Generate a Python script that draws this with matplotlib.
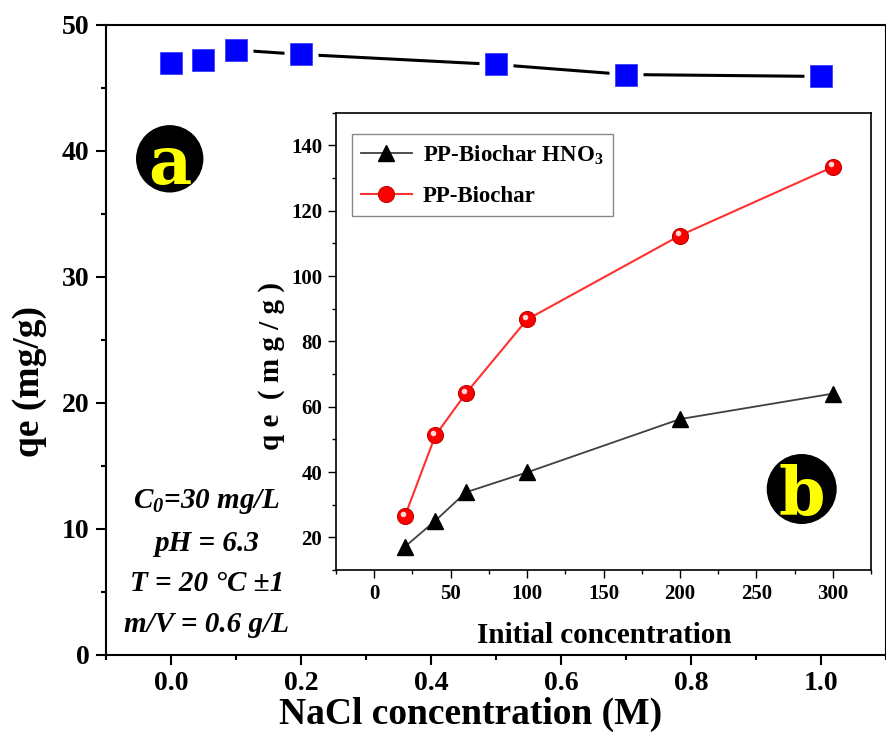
import matplotlib
matplotlib.use("Agg")
import matplotlib.pyplot as plt
from matplotlib.patches import Circle
from matplotlib.ticker import MultipleLocator
from matplotlib.transforms import ScaledTranslation

plt.rcParams['font.family'] = ['Liberation Serif', 'DejaVu Serif']
plt.rcParams['font.weight'] = 'bold'
plt.rcParams['axes.labelweight'] = 'bold'
plt.rcParams['mathtext.default'] = 'regular'

# panel a : effect of NaCl concentration
nacl_conc = [0.0, 0.05, 0.1, 0.2, 0.5, 0.7, 1.0]
nacl_qe = [47.0, 47.2, 48.0, 47.65, 46.85, 46.05, 45.9]

# panel b : effect of initial concentration
init_conc = [20, 40, 60, 100, 200, 300]
qe_hno3 = [17.1, 25.1, 33.8, 39.9, 56.2, 64.0]
qe_plain = [26.4, 51.2, 64.1, 86.7, 112.4, 133.4]

series_labels = ["PP-Biochar HNO$_3$", "PP-Biochar"]
conditions = "C$_0$=30 mg/L\npH = 6.3\nT = 20 °C ±1\nm/V = 0.6 g/L"

fig = plt.figure(figsize=(8.87, 7.4), dpi=100)

# ---- main axes
ax = fig.add_axes([0.1195, 0.1155, 0.8794, 0.851])
ax.plot(nacl_conc, nacl_qe, color='black', lw=2.2, zorder=2)
# white squares under the markers give the gap in the line
ax.plot(nacl_conc, nacl_qe, ls='none', marker='s', ms=25, mfc='white', mec='none', zorder=3)
ax.plot(nacl_conc, nacl_qe, ls='none', marker='s', ms=15.5, mfc='#0000ff', mec='#3030ff', mew=0.5, zorder=4)
ax.set_xlim(-0.1, 1.1)
ax.set_ylim(0, 50)
ax.xaxis.set_major_locator(MultipleLocator(0.2))
ax.xaxis.set_minor_locator(MultipleLocator(0.1))
ax.yaxis.set_major_locator(MultipleLocator(10))
ax.yaxis.set_minor_locator(MultipleLocator(5))
ax.tick_params(which='both', direction='out', width=1.5, labelsize=20, pad=5,
               top=False, right=False)
ax.tick_params(which='major', length=7)
ax.tick_params(which='minor', length=3.5)
for s in ax.spines.values():
    s.set_linewidth(1.5)
ax.set_xlabel('NaCl concentration (M)', fontsize=27)
ax.set_ylabel('qe (mg/g)', fontsize=27)
ax.xaxis.set_label_coords(0.467, -0.0675)
ax.yaxis.set_label_coords(-0.076, 0.433)

# ---- inset
ax2 = fig.add_axes([0.3788, 0.2297, 0.6032, 0.618])
ax2.set_zorder(5)
ax2.plot(init_conc, qe_hno3, color='#404040', lw=1.3, marker='^', ms=12,
         mfc='black', mec='black', label=series_labels[0])
ax2.plot(init_conc, qe_plain, color='#ff3030', lw=1.5, marker='o', ms=11.5,
         mfc='#ff0000', mec='#c00000', mew=0.8, label=series_labels[1])
hl = ScaledTranslation(-1.5 / 72, 2 / 72, fig.dpi_scale_trans)
ax2.plot(init_conc, qe_plain, ls='none', marker='o', ms=4, mfc='white', mec='none',
         alpha=0.85, transform=ax2.transData + hl)
ax2.set_xlim(-25, 325)
ax2.set_ylim(10, 150)
ax2.xaxis.set_major_locator(MultipleLocator(50))
ax2.xaxis.set_minor_locator(MultipleLocator(25))
ax2.yaxis.set_major_locator(MultipleLocator(20))
ax2.yaxis.set_minor_locator(MultipleLocator(10))
ax2.tick_params(which='both', direction='out', width=1, labelsize=15, pad=4,
                top=False, right=False)
ax2.tick_params(which='major', length=6)
ax2.tick_params(which='minor', length=3)
for s in ax2.spines.values():
    s.set_linewidth(1.2)
ax2.set_xlabel('Initial concentration', fontsize=21)
ax2.set_ylabel('q e  ( m g / g )', fontsize=21)
ax2.xaxis.set_label_coords(0.502, -0.113)
ax2.yaxis.set_label_coords(-0.095, 0.446)
leg = ax2.legend(loc='upper left', bbox_to_anchor=(0.03, 0.953), borderaxespad=0,
                 fontsize=16.5, fancybox=False, edgecolor='#888888', handlelength=2.2,
                 handletextpad=0.5, labelspacing=0.85, framealpha=1)
leg.get_frame().set_linewidth(1)

# ---- panel letters
for cx, cy, r, letter in [(1.697, 5.812, 0.337, 'a'), (8.017, 2.51, 0.35, 'b')]:
    c = Circle((cx, cy), r, transform=fig.dpi_scale_trans, fc='black', ec='none', zorder=10)
    fig.add_artist(c)
    fig.text(cx / 8.87, cy / 7.4, letter, ha='center', va='center_baseline', color='#ffff00',
             fontsize=48, family='DejaVu Serif', weight='bold', zorder=11)

fig.text(207 / 887, 1 - 562.5 / 740, conditions, ha='center', va='center', ma='center',
         fontsize=21, style='italic', linespacing=1.65)

fig.savefig('out.png', dpi=100)
